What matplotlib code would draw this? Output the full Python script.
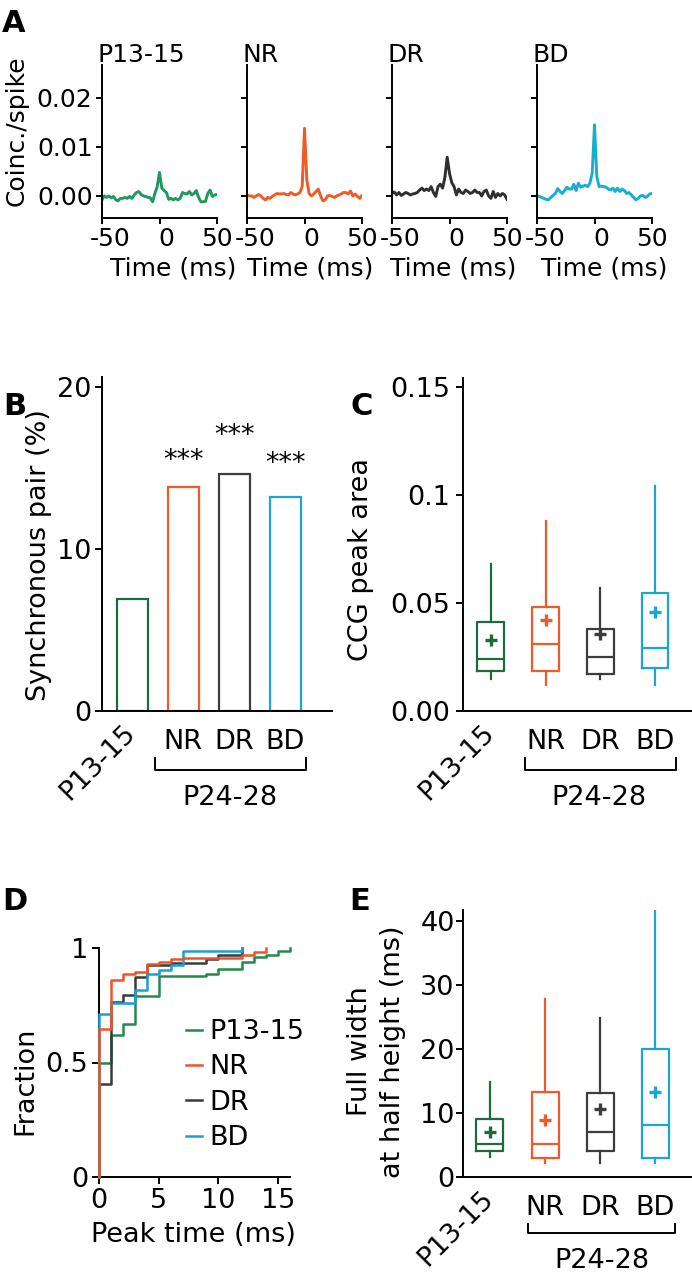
import matplotlib
matplotlib.use('Agg')
import matplotlib.pyplot as plt
import matplotlib.transforms as mtransforms
import numpy as np

plt.rcParams['font.family'] = ['DejaVu Sans']
plt.rcParams['axes.linewidth'] = 1.4

W, H = 692, 1280

groups = ['P13-15', 'NR', 'DR', 'BD']
colors_a = ['#1d9a5c', '#f15a24', '#2e2e2e', '#17aed3']
colors_bce = ['#1e6b3e', '#f05a2a', '#3d3d3d', '#1aa6d2']
colors_d = ['#238a4c', '#f0522a', '#3a3a3a', '#1a9fd0']

# A: cross-correlograms (coincidences / spike)
ccg_time = np.arange(-50, 51, 2)
ccg_p1315 = [-0.0008, 0.0, -0.0003, 0.0, -0.0004, -0.0001, -0.0008, -0.0010, -0.0005, -0.0005,
             -0.0003, -0.0005, -0.0001, -0.0005, 0.0002, 0.0007, 0.0009, 0.0003, 0.0, -0.0001,
             -0.0003, -0.0004, -0.0012, 0.0005, 0.0019, 0.0048, 0.0016, 0.0011, 0.0007, -0.0007,
             -0.0005, -0.0008, -0.0005, -0.0008, -0.0005, 0.0007, 0.0005, 0.0004, 0.0009, 0.0002,
             0.0005, 0.0011, -0.0003, -0.0012, -0.0012, -0.0011, 0.0005, 0.0012, -0.0001, 0.0002,
             0.0003]
ccg_nr = [0.0002, 0.0, 0.0, -0.0003, 0.0, 0.0003, 0.0, -0.0005, -0.0008, -0.0003,
          -0.0005, -0.0001, 0.0002, 0.0005, 0.0004, 0.0004, 0.0005, 0.0003, 0.0002, 0.0007,
          0.0004, 0.0002, 0.0004, 0.0007, 0.0019, 0.0138, 0.0033, 0.0005, 0.0, 0.0004,
          0.0009, 0.0014, 0.0, -0.0010, -0.0008, 0.0, 0.0001, -0.0001, -0.0003, 0.0,
          0.0002, 0.0004, 0.0007, 0.0007, 0.0004, 0.0010, 0.0, 0.0004, -0.0001, -0.0005,
          0.0001]
ccg_dr = [0.0005, 0.0008, 0.0002, 0.0007, 0.0001, 0.0004, 0.0007, 0.0005, 0.0002, 0.0004,
          0.0005, 0.0007, 0.0012, 0.0016, 0.0011, 0.0014, 0.0011, 0.0019, 0.0007, -0.0001,
          0.0019, 0.0024, 0.0016, 0.0038, 0.0079, 0.0046, 0.0027, 0.0019, 0.0002, 0.0014,
          0.0007, 0.0005, 0.0012, 0.0009, 0.0005, 0.0007, 0.0012, 0.0007, 0.0007, 0.0,
          0.0009, 0.0012, 0.0, -0.0005, 0.0009, -0.0003, 0.0005, 0.0, 0.0005, 0.0002,
          -0.0007]
ccg_bd = [0.0, -0.0001, -0.0003, -0.0005, -0.0007, -0.0008, -0.0003, 0.0001, 0.0005, 0.0015,
          0.0009, 0.0005, 0.0011, 0.0018, 0.0014, 0.0014, 0.0024, 0.0011, 0.0026, 0.0018,
          0.0020, 0.0022, 0.0019, 0.0026, 0.0046, 0.0145, 0.0039, 0.0019, 0.0020, 0.0019,
          0.0018, 0.0014, 0.0012, 0.0016, 0.0009, 0.0016, 0.0009, 0.0014, 0.0011, 0.0005,
          0.0007, 0.0002, -0.0003, -0.0008, -0.0005, 0.0, 0.0001, -0.0003, -0.0001, 0.0004,
          0.0005]

# B: percentage of synchronous pairs
sync_pct = [6.9, 13.8, 14.6, 13.2]
star_y = [None, 15.0, 16.5, 14.8]

# C: CCG peak area (box stats)
area_whislo = [0.015, 0.012, 0.015, 0.012]
area_q1 = [0.0185, 0.0185, 0.017, 0.020]
area_med = [0.024, 0.031, 0.025, 0.029]
area_q3 = [0.041, 0.048, 0.038, 0.0546]
area_whishi = [0.068, 0.088, 0.057, 0.104]
area_mean = [0.033, 0.042, 0.0356, 0.046]

# D: cumulative fraction of peak time
peak_t_p1315 = [0, 0, 1, 2, 3, 5, 9, 10, 12, 13, 14, 15, 16]
peak_f_p1315 = [0, 0.50, 0.62, 0.67, 0.79, 0.876, 0.888, 0.91, 0.94, 0.96, 0.97, 0.985, 1.0]
peak_t_nr = [0, 0, 1, 2, 3, 4, 5, 6, 7, 12, 13, 14]
peak_f_nr = [0, 0.648, 0.86, 0.885, 0.895, 0.932, 0.94, 0.95, 0.958, 0.968, 0.982, 1.0]
peak_t_dr = [0, 0, 1, 2, 3, 4, 6, 9, 10, 12]
peak_f_dr = [0, 0.408, 0.764, 0.796, 0.873, 0.924, 0.934, 0.953, 0.968, 1.0]
peak_t_bd = [0, 0, 1, 3, 4, 5, 6, 7, 12]
peak_f_bd = [0, 0.71, 0.761, 0.818, 0.885, 0.902, 0.924, 0.987, 1.0]

# E: full width at half height (ms)
fwhh_whislo = [3.2, 2.2, 2.2, 2.2]
fwhh_q1 = [4.0, 3.0, 4.1, 3.0]
fwhh_med = [5.1, 5.1, 7.1, 8.1]
fwhh_q3 = [9.0, 13.3, 13.1, 20.0]
fwhh_whishi = [14.9, 27.8, 24.9, 42.0]
fwhh_mean = [7.0, 8.9, 10.6, 13.3]

FS_A = 18
FS = 19.5
TICK = dict(direction='out', width=1.4, labelsize=FS)


def frame(left, top, right, bottom):
    return [left / W, 1 - bottom / H, (right - left) / W, (bottom - top) / H]


def clean(ax):
    ax.spines['top'].set_visible(False)
    ax.spines['right'].set_visible(False)


def group_ticks(ax, bracket, label_x, bracket_y, text_y):
    ax.set_xticks(range(4))
    ax.set_xticklabels(groups)
    ax.tick_params(axis='x', length=0, pad=13)
    first = ax.get_xticklabels()[0]
    first.set_rotation(45)
    first.set_ha('right')
    first.set_va('center')
    first.set_rotation_mode('anchor')
    trans = ax.get_xaxis_transform()
    ax.plot([bracket[0], bracket[0], bracket[1], bracket[1]],
            [bracket_y + 0.035, bracket_y, bracket_y, bracket_y + 0.035],
            color='black', lw=1.4, transform=trans, clip_on=False)
    ax.text(label_x, text_y, 'P24-28', transform=trans, ha='center', va='top',
            fontsize=FS)


def boxes(ax, whislo, q1, med, q3, whishi, mean):
    stats = [dict(whislo=whislo[i], q1=q1[i], med=med[i], q3=q3[i],
                  whishi=whishi[i], mean=mean[i], fliers=[]) for i in range(4)]
    parts = ax.bxp(stats, positions=range(4), widths=0.49, showmeans=True,
                   showcaps=False, showfliers=False)
    for i, c in enumerate(colors_bce):
        parts['boxes'][i].set(color=c, lw=1.6)
        parts['medians'][i].set(color=c, lw=1.6)
        parts['whiskers'][2 * i].set(color=c, lw=1.6)
        parts['whiskers'][2 * i + 1].set(color=c, lw=1.6)
        parts['means'][i].set(marker='+', markeredgecolor=c, markersize=9,
                              markeredgewidth=2.4)


fig = plt.figure(figsize=(W / 100, H / 100), dpi=100)

# ---- panel A
series_a = [ccg_p1315, ccg_nr, ccg_dr, ccg_bd]
xlabel_x = [0.62, 0.55, 0.53, 0.58]
for i, left in enumerate([102, 247, 392, 537]):
    ax = fig.add_axes(frame(left, 65, left + 115, 218))
    clean(ax)
    ax.plot(ccg_time, series_a[i], color=colors_a[i], lw=2.1)
    ax.set_xlim(-50, 50)
    ax.set_ylim(-0.0045, 0.0267)
    ax.set_xticks([-50, 0, 50])
    ax.set_xticklabels(['-50', '0', '50'])
    ax.set_yticks([0, 0.01, 0.02])
    ax.tick_params(direction='out', width=1.4, length=4.3, pad=2.5,
                   labelsize=FS_A)
    if i == 0:
        ax.set_yticklabels(['0.00', '0.01', '0.02'])
        ax.set_ylabel('Coinc./spike', fontsize=FS_A)
        ax.yaxis.set_label_coords(-0.64, 0.57)
    else:
        ax.set_yticklabels([])
    # the reference nudges '-50' and '0' a little to the right
    for lab, dx in zip(ax.get_xticklabels(), [6.0, 5.0, 0.0]):
        lab.set_transform(lab.get_transform() +
                          mtransforms.ScaledTranslation(dx / 72, 0, fig.dpi_scale_trans))
    ax.set_xlabel('Time (ms)', fontsize=FS_A)
    ax.xaxis.set_label_coords(xlabel_x[i], -0.25)
    ax.xaxis.label.set_va('top')
    ax.text(-0.04, 1.02, groups[i], transform=ax.transAxes, fontsize=FS_A,
            ha='left', va='baseline')

# ---- panel B
ax = fig.add_axes(frame(102, 377, 332, 711))
clean(ax)
ax.bar(range(4), sync_pct, width=0.61, facecolor='none',
       edgecolor=colors_bce, lw=1.6)
for i, y in enumerate(star_y):
    if y is not None:
        ax.text(i, y, '***', ha='center', va='baseline', fontsize=FS)
ax.set_xlim(-0.59, 3.92)
ax.set_ylim(0, 20.6)
ax.set_yticks([0, 10, 20])
ax.tick_params(axis='y', length=5, pad=3, **TICK)
ax.tick_params(axis='x', labelsize=FS)
group_ticks(ax, (0.45, 3.41), 1.92, -0.177, -0.222)
ax.set_ylabel('Synchronous pair (%)', fontsize=FS)
ax.yaxis.set_label_coords(-0.217, 0.467)

# ---- panel C
ax = fig.add_axes(frame(463, 378, 691, 711))
clean(ax)
boxes(ax, area_whislo, area_q1, area_med, area_q3, area_whishi, area_mean)
ax.set_xlim(-0.51, 3.66)
ax.set_ylim(0, 0.154)
ax.set_yticks([0, 0.05, 0.1, 0.15])
ax.set_yticklabels(['0.00', '0.05', '0.1', '0.15'])
ax.tick_params(axis='y', length=5, pad=4, **TICK)
ax.tick_params(axis='x', labelsize=FS)
group_ticks(ax, (0.62, 3.39), 1.98, -0.177, -0.222)
ax.set_ylabel('CCG peak area', fontsize=FS)
ax.yaxis.set_label_coords(-0.39, 0.455)

# ---- panel D
ax = fig.add_axes(frame(99, 948, 290, 1177))
clean(ax)
peak_t = [peak_t_p1315, peak_t_nr, peak_t_dr, peak_t_bd]
peak_f = [peak_f_p1315, peak_f_nr, peak_f_dr, peak_f_bd]
zorders = [3, 6, 4, 5]
for i in range(4):
    ax.step(peak_t[i], peak_f[i], where='post', color=colors_d[i], lw=1.8,
            label=groups[i], zorder=zorders[i], clip_on=False)
ax.set_xlim(0, 16)
ax.set_ylim(0, 1)
ax.set_xticks([0, 5, 10, 15])
ax.set_yticks([0, 0.5, 1])
ax.set_yticklabels(['0', '0.5', '1'])
ax.tick_params(length=5, pad=3, **TICK)
ax.set_xlabel('Peak time (ms)', fontsize=FS)
ax.xaxis.set_label_coords(0.497, -0.197)
ax.xaxis.label.set_va('top')
ax.set_ylabel('Fraction', fontsize=FS)
ax.yaxis.set_label_coords(-0.32, 0.42)
ax.legend(loc='upper left', bbox_to_anchor=(0.455, 0.69), frameon=False,
          fontsize=FS, handlelength=0.6, handletextpad=0.25,
          labelspacing=0.35, borderpad=0, borderaxespad=0)

# ---- panel E
ax = fig.add_axes(frame(463, 910, 691, 1177))
clean(ax)
boxes(ax, fwhh_whislo, fwhh_q1, fwhh_med, fwhh_q3, fwhh_whishi, fwhh_mean)
ax.set_xlim(-0.49, 3.65)
ax.set_ylim(0, 41.7)
ax.set_yticks([0, 10, 20, 30, 40])
ax.tick_params(axis='y', length=5, pad=1, **TICK)
ax.tick_params(axis='x', labelsize=FS)
group_ticks(ax, (0.69, 3.36), 2.04, -0.21, -0.266)
ax.set_ylabel('Full width\nat half height (ms)', fontsize=FS, linespacing=1.35)
ax.yaxis.set_label_coords(-0.25, 0.47)

# panel letters
for letter, x, y in [('A', 2, 32), ('B', 3, 415), ('C', 350, 415),
                     ('D', 2, 910), ('E', 349, 910)]:
    fig.text(x / W, 1 - y / H, letter, fontsize=22, fontweight='bold',
             ha='left', va='baseline')

fig.savefig('out.png', dpi=100)
